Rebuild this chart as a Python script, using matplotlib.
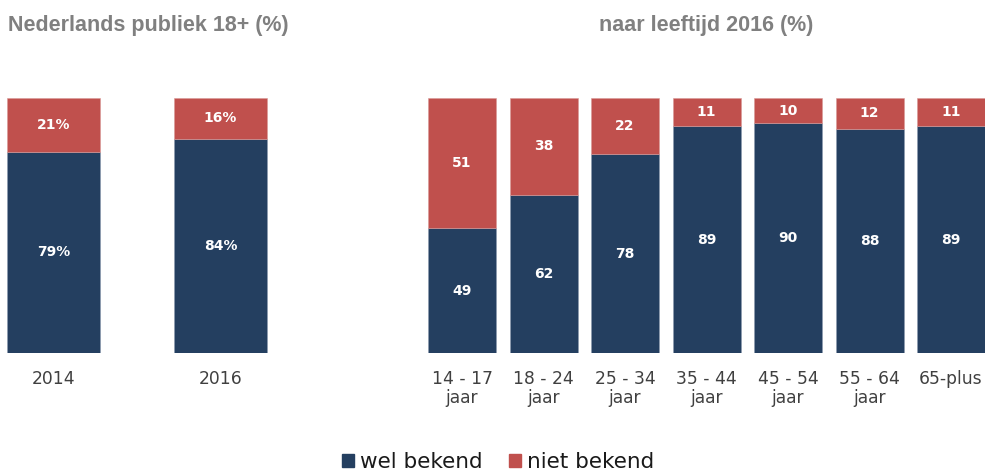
import matplotlib.pyplot as plt
from matplotlib.patches import Patch

plt.rcParams["font.family"] = "DejaVu Sans"

# Data
years = ["2014", "2016"]
years_known = [79, 84]
years_unknown = [21, 16]

ages = ["14 - 17\njaar", "18 - 24\njaar", "25 - 34\njaar", "35 - 44\njaar",
        "45 - 54\njaar", "55 - 64\njaar", "65-plus"]
ages_known = [49, 62, 78, 89, 90, 88, 89]
ages_unknown = [51, 38, 22, 11, 10, 12, 11]

BLUE = "#243f60"
RED = "#c0504d"
W, H = 985, 473

fig = plt.figure(figsize=(W / 100, H / 100), dpi=100)


def px_axes(left, right, bottom, top):
    return fig.add_axes([left / W, 1 - bottom / H, (right - left) / W, (bottom - top) / H])


def draw(ax, labels, known, unknown, width, suffix):
    x = list(range(len(labels)))
    ax.bar(x, known, width, color=BLUE, edgecolor="#8c9bb0", linewidth=0.4)
    ax.bar(x, unknown, width, bottom=known, color=RED, edgecolor="#d99a98", linewidth=0.4)
    for i, (k, u) in enumerate(zip(known, unknown)):
        ax.text(i, k / 2, f"{k}{suffix}", ha="center", va="center", color="white",
                fontsize=10, fontweight="bold")
        ax.text(i, k + u / 2, f"{u}{suffix}", ha="center", va="center", color="white",
                fontsize=10, fontweight="bold")
    ax.set_ylim(0, 100)
    ax.set_xticks(x)
    ax.set_xticklabels(labels, fontsize=12.3, color="#404040", linespacing=1.1)
    ax.tick_params(axis="x", length=0, pad=12)
    ax.set_yticks([])
    for s in ax.spines.values():
        s.set_visible(False)


# left panel: bar centres at 53.5 and 220.5 px
ax1 = px_axes(0, 300, 353, 98)
ax1.set_xlim(-53.5 / 167, (300 - 53.5) / 167)
draw(ax1, years, years_known, years_unknown, 93 / 167, "%")

# right panel: bar centres from 462 px, step 81.5 px
ax2 = px_axes(420, 985, 353, 98)
ax2.set_xlim((420 - 462) / 81.5, (985 - 462) / 81.5)
draw(ax2, ages, ages_known, ages_unknown, 68 / 81.5, "")

fig.text(8 / W, 1 - 25 / H, "Nederlands publiek 18+ (%)", ha="left", va="center",
         fontsize=15.5, fontweight="bold", color="#808080", family="Liberation Sans")
fig.text(706 / W, 1 - 25 / H, "naar leeftijd 2016 (%)", ha="center", va="center",
         fontsize=15.5, fontweight="bold", color="#808080", family="Liberation Sans")

handles = [Patch(color=BLUE, label="wel bekend"), Patch(color=RED, label="niet bekend")]
fig.legend(handles=handles, loc="center", bbox_to_anchor=(498 / W, 1 - 462 / H), ncol=2,
           frameon=False, fontsize=15.5, handlelength=0.56, handleheight=0.56,
           handletextpad=0.3, columnspacing=1.2, labelcolor="#1a1a1a",
           borderpad=0, borderaxespad=0)

fig.savefig("out.png", dpi=100, facecolor="white")
